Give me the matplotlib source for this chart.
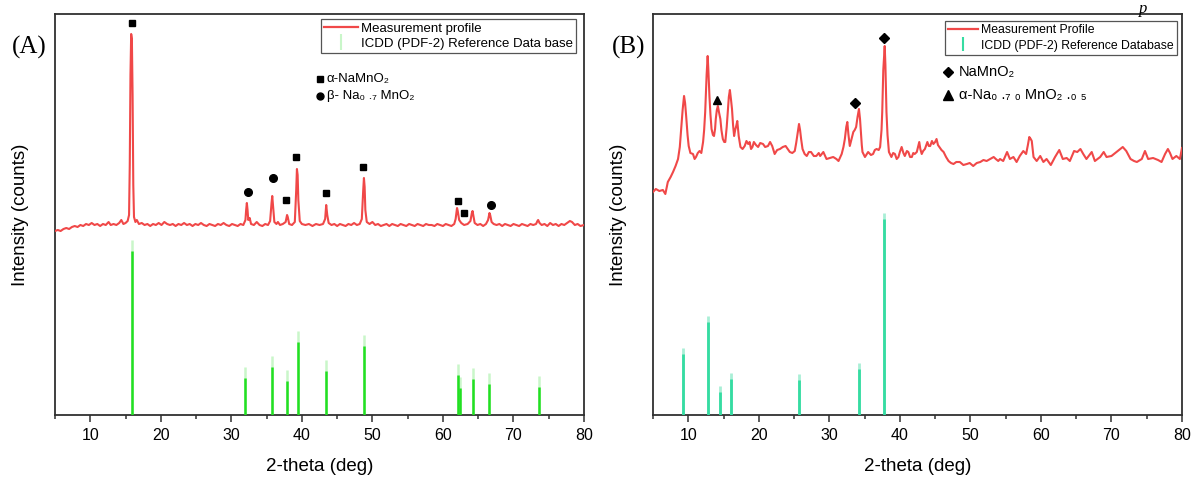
import matplotlib
matplotlib.use("Agg")
import matplotlib.pyplot as plt
from matplotlib.lines import Line2D

plt.rcParams['font.family'] = ['Liberation Sans', 'DejaVu Sans']

# ---------------- Panel A data ----------------
prof_a_x = [5.0, 5.4, 5.8, 6.2, 6.6, 7.0, 7.4, 7.8, 8.2, 8.6, 9.0, 9.4, 9.8, 10.2, 10.6, 11.0, 11.4, 11.8,
            12.2, 12.6, 12.9, 13.3, 13.7, 14.1, 14.4, 14.7, 15.0, 15.3, 15.5, 15.6, 15.7, 15.8, 15.9, 16.0,
            16.1, 16.2, 16.4, 16.6, 16.9, 17.3, 17.7, 18.1, 18.5, 18.9, 19.3, 19.7, 20.1, 20.5, 20.9, 21.3,
            21.7, 22.1, 22.5, 22.9, 23.3, 23.7, 24.1, 24.5, 24.9, 25.3, 25.7, 26.1, 26.5, 26.9, 27.3, 27.7,
            28.1, 28.5, 28.9, 29.3, 29.7, 30.1, 30.5, 30.9, 31.3, 31.7, 32.0, 32.1, 32.2, 32.3, 32.4, 32.6,
            32.8, 33.2, 33.6, 34.0, 34.4, 34.8, 35.2, 35.5, 35.7, 35.8, 35.9, 36.1, 36.4, 36.6, 36.9, 37.3,
            37.7, 37.9, 38.0, 38.2, 38.6, 39.0, 39.2, 39.3, 39.4, 39.5, 39.7, 40.0, 40.5, 41.0, 41.5, 42.0,
            42.5, 43.0, 43.3, 43.45, 43.6, 43.8, 44.2, 44.6, 45.0, 45.4, 45.8, 46.2, 46.6, 47.0, 47.4, 47.8,
            48.2, 48.5, 48.7, 48.8, 48.9, 49.0, 49.2, 49.6, 50.0, 50.4, 50.8, 51.2, 51.6, 52.0, 52.4, 52.8,
            53.2, 53.6, 54.0, 54.4, 54.8, 55.2, 55.6, 56.0, 56.4, 56.8, 57.2, 57.6, 58.0, 58.4, 58.8, 59.2,
            59.6, 60.0, 60.4, 60.8, 61.2, 61.6, 61.8, 62.0, 62.1, 62.3, 62.6, 63.0, 63.5, 63.9, 64.1, 64.2,
            64.3, 64.5, 64.9, 65.3, 65.7, 66.1, 66.4, 66.6, 66.7, 66.9, 67.2, 67.6, 68.0, 68.4, 68.8, 69.2,
            69.6, 70.0, 70.4, 70.8, 71.2, 71.6, 72.0, 72.4, 72.8, 73.2, 73.4, 73.5, 73.7, 74.0, 74.4, 74.8,
            75.2, 75.6, 76.0, 76.4, 76.8, 77.2, 77.6, 78.0, 78.3, 78.7, 79.1, 79.5, 80.0]
prof_a_y = [184, 185, 184, 186, 187, 186, 188, 189, 188, 190, 189, 191, 190, 192, 190, 191, 189, 191,
            190, 193, 190, 191, 190, 192, 195, 191, 192, 194, 200, 250, 340, 381, 376, 320,
            230, 198, 193, 195, 191, 192, 190, 191, 189, 191, 190, 192, 190, 193, 191, 190,
            191, 189, 191, 190, 192, 190, 191, 189, 191, 190, 192, 190, 189, 191, 190, 189,
            191, 190, 192, 190, 189, 191, 190, 189, 191, 190, 195, 205, 212, 205, 195, 197,
            191, 190, 193, 190, 189, 191, 190, 194, 212, 219, 210, 193, 191, 193, 190, 191,
            193, 200, 198, 191, 190, 193, 225, 246, 240, 215, 194, 191, 190, 191, 189, 191,
            190, 191, 196, 210, 200, 192, 190, 191, 189, 191, 190, 189, 191, 190, 192, 190,
            191, 196, 225, 237, 228, 205, 193, 191, 193, 190, 191, 189, 190, 191, 189, 191,
            190, 189, 191, 190, 189, 191, 190, 189, 191, 190, 189, 191, 190, 190, 189, 191,
            190, 189, 191, 190, 189, 191, 196, 207, 204, 195, 192, 190, 191, 194, 202, 204,
            200, 192, 190, 191, 189, 191, 195, 202, 200, 193, 191, 190, 191, 189, 191, 190,
            189, 191, 190, 189, 191, 190, 189, 191, 190, 191, 194, 195, 192, 190, 191, 189,
            192, 190, 191, 189, 191, 190, 192, 194, 193, 190, 191, 189, 190]

ref_a_x = [15.9, 32.0, 35.76, 37.93, 39.4, 43.48, 48.75, 62.1, 62.4, 64.3, 66.6, 73.6]
ref_a_y = [164, 37, 48, 34, 73, 44, 69, 40, 27, 36, 31, 28]

sq_a_x = [15.95, 37.75, 39.2, 43.4, 48.7, 62.1, 62.95]
sq_a_y = [392, 215, 258, 222, 248, 214, 202]
ci_a_x = [32.3, 35.9, 66.8]
ci_a_y = [223, 237, 210]

# ---------------- Panel B data ----------------
prof_b_x = [5.0, 5.4, 5.9, 6.4, 6.75, 7.1, 7.5, 7.84, 8.2, 8.55, 8.8, 9.0, 9.2, 9.4, 9.55, 9.7, 9.9, 10.06,
            10.3, 10.67, 10.9, 11.1, 11.35, 11.6, 11.85, 12.1, 12.25, 12.4, 12.6, 12.75, 12.85, 13.0, 13.15,
            13.3, 13.5, 13.65, 13.8, 13.9, 14.05, 14.2, 14.35, 14.55, 14.7, 14.9, 15.1, 15.25, 15.45, 15.6,
            15.75, 15.9, 16.05, 16.2, 16.35, 16.5, 16.65, 16.8, 16.95, 17.15, 17.4, 17.7, 18.0, 18.25, 18.5,
            18.7, 18.9, 19.1, 19.3, 19.6, 19.9, 20.2, 20.6, 20.9, 21.3, 21.6, 21.9, 22.25, 22.6, 23.0, 23.4,
            23.8, 24.1, 24.4, 24.75, 25.1, 25.3, 25.45, 25.7, 25.85, 26.0, 26.2, 26.5, 26.8, 27.1, 27.4, 27.8,
            28.15, 28.5, 28.7, 29.15, 29.6, 30.1, 30.55, 31.0, 31.3, 31.75, 32.0, 32.2, 32.4, 32.55, 32.7,
            32.9, 33.15, 33.4, 33.6, 33.8, 34.0, 34.2, 34.35, 34.45, 34.6, 34.7, 35.05, 35.5, 35.9, 36.2,
            36.45, 36.7, 37.0, 37.2, 37.4, 37.5, 37.65, 37.85, 37.95, 38.1, 38.25, 38.45, 38.8, 39.05, 39.3,
            39.55, 39.8, 40.0, 40.25, 40.5, 40.7, 41.0, 41.2, 41.45, 41.7, 41.9, 42.1, 42.4, 42.75, 42.9,
            43.1, 43.3, 43.55, 43.75, 43.9, 44.1, 44.3, 44.55, 44.75, 45.0, 45.2, 45.4, 45.6, 45.9, 46.2,
            46.55, 46.9, 47.25, 47.6, 48.0, 48.5, 49.0, 49.5, 49.9, 50.4, 50.9, 51.4, 51.85, 52.3, 52.8,
            53.3, 53.6, 53.95, 54.2, 54.65, 55.2, 55.6, 56.1, 56.55, 57.0, 57.5, 57.9, 58.15, 58.35, 58.55,
            58.7, 58.95, 59.4, 59.9, 60.35, 60.8, 61.4, 62.0, 62.6, 63.1, 63.65, 64.1, 64.7, 65.15, 65.6,
            66.0, 66.45, 67.2, 67.65, 68.4, 68.9, 69.3, 70.0, 70.7, 71.2, 71.6, 72.1, 72.7, 73.2, 73.6,
            74.3, 74.75, 75.2, 75.9, 76.6, 77.1, 77.6, 78.0, 78.3, 78.65, 79.2, 79.7, 80.0]
prof_b_y = [223, 226, 224, 225, 221, 233, 238, 243, 249, 256, 268, 286, 305, 319, 312, 299, 280, 269,
            262, 261, 256, 258, 262, 264, 262, 273, 285, 303, 340, 359, 345, 319, 300,
            286, 280, 279, 286, 296, 305, 309, 303, 296, 285, 276, 273, 273, 288, 303,
            318, 325, 316, 306, 290, 279, 285, 289, 294, 279, 268, 266, 269, 274, 271,
            273, 266, 268, 273, 270, 268, 272, 271, 268, 269, 273, 269, 261, 265, 266, 268,
            269, 266, 263, 262, 264, 272, 279, 291, 285, 276, 266, 261, 259, 263, 263, 259,
            259, 262, 259, 263, 256, 257, 258, 256, 254, 261, 268, 276, 288, 293, 281,
            269, 276, 283, 285, 288, 298, 306, 296, 286, 270, 263, 258, 263, 260, 261,
            265, 266, 265, 268, 285, 303, 345, 369, 350, 303, 280, 263, 258, 262, 261,
            256, 258, 263, 268, 262, 259, 264, 263, 258, 258, 262, 261, 263, 273, 266,
            261, 264, 266, 270, 273, 269, 269, 274, 271, 273, 276, 270, 268, 265, 263,
            258, 254, 252, 251, 253, 253, 250, 251, 252, 249, 252, 253, 255, 254, 256,
            258, 256, 254, 256, 254, 263, 256, 258, 253, 259, 264, 261, 270, 278, 276,
            274, 258, 254, 259, 253, 256, 250, 258, 265, 256, 257, 254, 264, 263, 266,
            261, 256, 263, 254, 258, 263, 258, 259, 263, 266, 268, 264, 256, 254, 253,
            256, 264, 256, 257, 255, 253, 261, 266, 262, 256, 259, 256, 267]

ref_b_x = [9.3, 12.79, 14.45, 16.0, 25.7, 34.2, 37.8]
ref_b_y = [61, 93, 23, 36, 35, 46, 196]

di_b_x = [33.7, 37.75]
di_b_y = [312, 377]
tr_b_x = [14.1]
tr_b_y = [315]

xticks_major = [10, 20, 30, 40, 50, 60, 70, 80]
xticks_minor = [5, 15, 25, 35, 45, 55, 65, 75]

RED = '#f04848'
GREEN_A = '#22e022'
GREEN_A_FAINT = '#c9f6c9'
GREEN_B = '#36dca2'
GREEN_B_FAINT = '#a9efd6'
SPINE = '#303030'

fig = plt.figure(figsize=(11.92, 4.79), dpi=100)
W, H = 1192.0, 479.0
ax_a = fig.add_axes([55 / W, (H - 415) / H, 529 / W, 401 / H])
ax_b = fig.add_axes([653 / W, (H - 415) / H, 529 / W, 401 / H])


def style_axes(ax):
    ax.set_xlim(5, 80)
    ax.set_ylim(0, 401)
    ax.set_xticks(xticks_major)
    ax.set_xticks(xticks_minor, minor=True)
    ax.set_yticks([])
    ax.tick_params(axis='x', which='major', direction='out', length=5, width=1.1,
                   color=SPINE, labelsize=11.5, pad=4, top=False)
    ax.tick_params(axis='x', which='minor', direction='out', length=3, width=1.1,
                   color=SPINE, top=False)
    for s in ax.spines.values():
        s.set_color(SPINE)
        s.set_linewidth(1.3)
    ax.set_xlabel('2-theta (deg)', fontsize=13.5, labelpad=11)
    ax.set_ylabel('Intensity (counts)', fontsize=13.5)
    ax.yaxis.set_label_coords(-0.05, 0.5)


# ---- Panel A ----
ax = ax_a
style_axes(ax)
ax.vlines(ref_a_x, 0, [h + 11 for h in ref_a_y], colors=GREEN_A_FAINT, linewidth=1.8, zorder=2)
ax.vlines(ref_a_x, 0, ref_a_y, colors=GREEN_A, linewidth=1.8, zorder=3)
ax.plot(prof_a_x, prof_a_y, color=RED, lw=1.5, zorder=4)
ax.plot(sq_a_x, sq_a_y, ls='none', marker='s', ms=5, color='black', zorder=5)
ax.plot(ci_a_x, ci_a_y, ls='none', marker='o', ms=5.5, color='black', zorder=5)
h1 = Line2D([], [], color=RED, lw=1.6)
h2 = Line2D([], [], color=GREEN_A_FAINT, marker='|', ls='none', ms=12, mew=1.5)
leg = ax.legend([h1, h2], ['Measurement profile', 'ICDD (PDF-2) Reference Data base'],
                loc='upper right', bbox_to_anchor=(0.985, 0.9875), fontsize=9.5,
                frameon=True, fancybox=False, edgecolor='#555555', framealpha=1,
                borderpad=0.25, handlelength=2.6, handletextpad=0.2, labelspacing=0.25,
                borderaxespad=0)
leg.get_frame().set_linewidth(0.9)
ax.plot([0.501], [0.838], transform=ax.transAxes, marker='s', ms=4.5, color='black', clip_on=False)
ax.text(0.514, 0.838, 'α-NaMnO₂', transform=ax.transAxes, fontsize=9.5, va='center', ha='left')
ax.plot([0.501], [0.796], transform=ax.transAxes, marker='o', ms=5, color='black', clip_on=False)
ax.text(0.514, 0.796, 'β- Na₀ .₇ MnO₂', transform=ax.transAxes, fontsize=9.5, va='center', ha='left')

# ---- Panel B ----
ax = ax_b
style_axes(ax)
ax.vlines(ref_b_x, 0, [h + 6 for h in ref_b_y], colors=GREEN_B_FAINT, linewidth=2.0, zorder=2)
ax.vlines(ref_b_x, 0, ref_b_y, colors=GREEN_B, linewidth=2.0, zorder=3)
ax.plot(prof_b_x, prof_b_y, color=RED, lw=1.5, zorder=4)
ax.plot(di_b_x, di_b_y, ls='none', marker='D', ms=5.5, color='black', zorder=5)
ax.plot(tr_b_x, tr_b_y, ls='none', marker='^', ms=5.5, color='black', zorder=5)
h1 = Line2D([], [], color=RED, lw=1.6)
h2 = Line2D([], [], color=GREEN_B, marker='|', ls='none', ms=10, mew=1.5)
leg = ax.legend([h1, h2], ['Measurement Profile', 'ICDD (PDF-2) Reference Database'],
                loc='upper right', bbox_to_anchor=(0.9905, 0.9825), fontsize=8.8,
                frameon=True, fancybox=False, edgecolor='#555555', framealpha=1,
                borderpad=0.25, handlelength=2.4, handletextpad=0.3, labelspacing=0.3,
                borderaxespad=0)
leg.get_frame().set_linewidth(0.9)
ax.plot([0.558], [0.855], transform=ax.transAxes, marker='D', ms=5, color='black', clip_on=False)
ax.text(0.578, 0.855, 'NaMnO₂', transform=ax.transAxes, fontsize=10.5, va='center', ha='left')
ax.plot([0.558], [0.798], transform=ax.transAxes, marker='^', ms=6.5, color='black', clip_on=False)
ax.text(0.578, 0.798, 'α-Na₀ .₇ ₀ MnO₂ .₀ ₅', transform=ax.transAxes, fontsize=10.5, va='center', ha='left')

# Panel labels
fig.text(29 / W, 1 - 47 / H, '(A)', family='Liberation Serif', fontsize=18, ha='center', va='center')
fig.text(629 / W, 1 - 47 / H, '(B)', family='Liberation Serif', fontsize=18, ha='center', va='center')
# caption fragment at the top edge
fig.text(1143 / W, 1 - 1 / H, 'p', family='Liberation Serif', style='italic', fontsize=12,
         ha='center', va='top')

fig.savefig('out.png', dpi=100)
